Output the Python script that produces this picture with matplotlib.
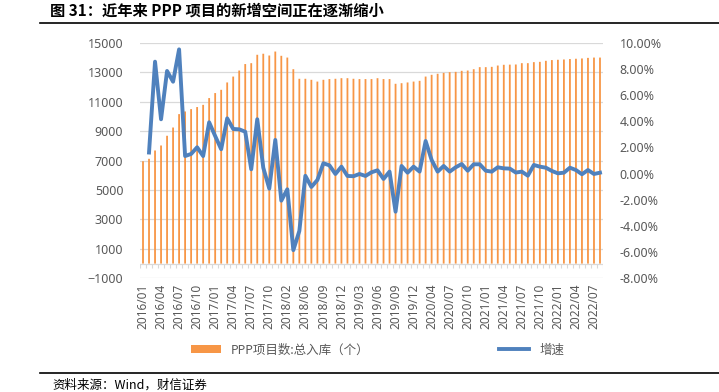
import numpy as np
import matplotlib
matplotlib.use('Agg')
import matplotlib.pyplot as plt
from matplotlib.patches import Patch
from matplotlib.lines import Line2D

plt.rcParams['font.family'] = ['Noto Sans', 'Noto Sans CJK SC', 'DejaVu Sans']

# monthly categories (a few months are absent in the source series)
skipped = ['2018/01', '2018/05', '2020/01']
months = ['%d/%02d' % (y, m) for y in range(2016, 2023) for m in range(1, 13)]
months = [m for m in months[:80] if m not in skipped]

# PPP 项目数：总入库（个）
projects = [6950, 7115, 7680, 8020, 8680, 9240, 10150, 10330, 10490, 10630,
            10780, 11240, 11580, 11800, 12300, 12700, 13110, 13550, 13610, 14180,
            14250, 14130, 14400, 14110, 13990, 13200, 12550, 12550, 12480, 12360,
            12480, 12530, 12550, 12590, 12590, 12550, 12530, 12530, 12530, 12590,
            12530, 12530, 12210, 12250, 12300, 12360, 12410, 12700, 12820, 12890,
            12950, 13000, 13020, 13090, 13110, 13200, 13340, 13340, 13360, 13450,
            13500, 13510, 13520, 13610, 13610, 13680, 13700, 13770, 13820, 13840,
            13860, 13890, 13910, 13930, 13970, 13990, 13990]

# 增速 (%)
growth = [np.nan, 1.61, 8.55, 4.15, 7.84, 7.02, 9.49, 1.34, 1.50, 2.01,
          1.34, 3.92, 2.87, 1.86, 4.22, 3.41, 3.38, 3.20, 0.33, 4.15,
          0.45, -1.15, 2.57, -2.07, -1.20, -5.85, -4.38, -0.17, -1.02, -0.49,
          0.79, 0.63, -0.03, 0.53, -0.18, -0.20, -0.03, -0.18, 0.10, 0.25,
          -0.41, 0.15, -2.91, 0.58, 0.07, 0.53, 0.15, 2.49, 1.04, 0.15,
          0.58, 0.15, 0.48, 0.73, 0.22, 0.71, 0.71, 0.22, 0.15, 0.48,
          0.40, 0.38, 0.08, 0.15, -0.16, 0.66, 0.53, 0.45, 0.20, 0.02,
          0.07, 0.45, 0.27, -0.05, 0.27, -0.03, 0.07]

bar_color = '#F79646'
line_color = '#4F81BD'
text_gray = '#595959'
grid_gray = '#D9D9D9'

x = np.arange(len(months))

fig = plt.figure(figsize=(7.19, 3.92), dpi=100)
ax = fig.add_axes([140/719, 1 - 278.3/392, 463/719, 235.6/392])

bars = ax.bar(x, projects, width=0.3, color=bar_color, linewidth=0, zorder=2)
for b in bars:
    b.set_snap(False)

ax.set_xlim(-0.5, len(months) - 0.5)
ax.set_ylim(-1000, 15000)
ax.set_yticks(np.arange(-1000, 15001, 2000))
ax.grid(True, axis='y', color=grid_gray, linewidth=0.9)
ax.set_axisbelow(True)
for s in ax.spines.values():
    s.set_visible(False)

# category axis sits at zero with small tick marks between categories
ax.axhline(0, color=grid_gray, linewidth=0.9, zorder=1)
ax.vlines(np.arange(-0.5, len(months), 1), -300, 0, color=grid_gray, linewidth=0.8, zorder=1)

ax.set_xticks(x[::3])
ax.set_xticklabels(months[::3], rotation=90)
ax.tick_params(axis='x', length=0, pad=4, labelsize=8.5, labelcolor=text_gray)
ax.tick_params(axis='y', length=0, pad=12, labelsize=9, labelcolor=text_gray)

ax2 = ax.twinx()
ax2.plot(x, growth, color=line_color, linewidth=2.8, solid_joinstyle='round', zorder=3)
ax2.set_ylim(-8, 10)
ax2.set_yticks(np.arange(-8, 10.1, 2))
ax2.set_yticklabels(['%.2f%%' % v for v in np.arange(-8, 10.1, 2)])
ax2.tick_params(axis='y', length=0, pad=12, labelsize=9, labelcolor=text_gray)
for s in ax2.spines.values():
    s.set_visible(False)

# legend
h1 = Patch(facecolor=bar_color, edgecolor='none')
h2 = Line2D([], [], color=line_color, linewidth=2.8)
leg = fig.legend([h1, h2], ['PPP项目数:总入库（个）', '增速'], loc='center',
                 bbox_to_anchor=(0.525, 1 - 350/392), ncol=2, frameon=False,
                 handlelength=2.4, handleheight=0.55, columnspacing=10.4,
                 prop={'family': ['Noto Sans', 'Noto Sans CJK SC'], 'size': 9})
for t in leg.get_texts():
    t.set_color(text_gray)

# title and source
fig.text(50/719, 1 - 11/392, '图 31：近年来 PPP 项目的新增空间正在逐渐缩小',
         fontsize=11, fontweight='bold', va='center', ha='left',
         family=['Noto Sans CJK SC', 'DejaVu Sans'])
fig.add_artist(Line2D([40/719, 1], [1 - 22.7/392] * 2, color='black', linewidth=1.2))
fig.add_artist(Line2D([40/719, 1], [1 - 373/392] * 2, color='black', linewidth=1.2))
fig.text(52/719, 1 - 385/392, '资料来源：Wind，财信证券', fontsize=9, style='italic',
         va='center', ha='left', family=['Noto Sans CJK SC', 'DejaVu Sans'])

fig.savefig('out.png', dpi=100)
